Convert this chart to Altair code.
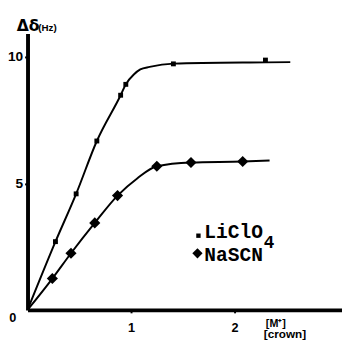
import altair as alt
import pandas as pd

# Values
li_x = [0.27, 0.47, 0.67, 0.90, 0.95, 1.41, 2.30]
li_y = [2.70, 4.59, 6.68, 8.49, 8.92, 9.73, 9.88]
li_curve_x = [0.0, 0.27, 0.47, 0.67, 0.90, 0.95, 1.03, 1.09, 1.18, 1.41, 2.30, 2.54]
li_curve_y = [0.0, 2.70, 4.59, 6.68, 8.49, 8.92, 9.32, 9.51, 9.61, 9.74, 9.79, 9.80]

na_x = [0.24, 0.42, 0.65, 0.87, 1.25, 1.58, 2.08]
na_y = [1.24, 2.24, 3.44, 4.52, 5.68, 5.83, 5.87]
na_curve_x = [0.0, 0.24, 0.42, 0.65, 0.87, 1.06, 1.25, 1.58, 2.08, 2.34]
na_curve_y = [0.0, 1.24, 2.24, 3.44, 4.52, 5.20, 5.68, 5.83, 5.87, 5.91]

x_ticks = [1, 2]
y_ticks = [5, 10]

W, H = 322, 283
XMAX, YMAX = 3.04, 10.93

li_pts = pd.DataFrame({"x": li_x, "y": li_y})
na_pts = pd.DataFrame({"x": na_x, "y": na_y})
li_curve = pd.DataFrame({"x": li_curve_x, "y": li_curve_y, "o": range(len(li_curve_x))})
na_curve = pd.DataFrame({"x": na_curve_x, "y": na_curve_y, "o": range(len(na_curve_x))})

xs = alt.Scale(domain=[0, XMAX], nice=False, zero=False)
ys = alt.Scale(domain=[0, YMAX], nice=False, zero=False)

xax = alt.Axis(values=x_ticks, format="d", title=None, grid=False, domainColor="black", domainWidth=4,
               tickColor="black", tickSize=3, tickWidth=2, labelPadding=9,
               labelFont="Liberation Sans", labelFontWeight="bold", labelFontSize=13,
               labelColor="black", labelBaseline="top")
yax = alt.Axis(values=y_ticks, format="d", title=None, grid=False, domainColor="black", domainWidth=4,
               tickColor="black", tickSize=3, tickWidth=2, labelPadding=2,
               labelFont="Liberation Sans", labelFontWeight="bold", labelFontSize=14,
               labelColor="black")

base_li = alt.Chart(li_curve).mark_line(color="black", strokeWidth=2, interpolate="monotone").encode(
    x=alt.X("x:Q", scale=xs, axis=xax), y=alt.Y("y:Q", scale=ys, axis=yax), order="o:Q")
base_na = alt.Chart(na_curve).mark_line(color="black", strokeWidth=2, interpolate="monotone").encode(
    x=alt.X("x:Q", scale=xs), y=alt.Y("y:Q", scale=ys), order="o:Q")

pts_li = alt.Chart(li_pts).mark_point(shape="square", filled=True, color="black", size=25, opacity=1).encode(
    x=alt.X("x:Q", scale=xs), y=alt.Y("y:Q", scale=ys))
pts_na = alt.Chart(na_pts).mark_point(shape="diamond", filled=True, color="black", size=130, opacity=1).encode(
    x=alt.X("x:Q", scale=xs), y=alt.Y("y:Q", scale=ys))

def txt(s, x, y, size, font="Liberation Sans", weight="bold", align="left", style="normal"):
    return alt.Chart(pd.DataFrame({"t": [s]})).mark_text(
        align=align, baseline="alphabetic", font=font, fontSize=size, fontWeight=weight,
        fontStyle=style, color="black").encode(text="t:N", x=alt.value(x), y=alt.value(y))

zero_lbl = txt("0", -15, H + 12, 13, align="center")
ytitle1 = txt("Δδ", -11, -3, 16, font="DejaVu Sans", weight="bold")
ytitle2 = txt("(Hz)", 11, -3, 10)
xtitle1 = txt("[M⁺]", 244, H + 17, 11)
xtitle2 = txt("[crown]", 242, H + 29, 12)

leg_sq = alt.Chart(pd.DataFrame({"a": [0]})).mark_point(shape="square", filled=True, color="black", size=20, opacity=1).encode(
    x=alt.value(175), y=alt.value(207))
leg_di = alt.Chart(pd.DataFrame({"a": [0]})).mark_point(shape="diamond", filled=True, color="black", size=110, opacity=1).encode(
    x=alt.value(174), y=alt.value(225))
leg1 = txt("LiClO", 181, 209, 20, font="Liberation Mono", weight="bold")
leg1b = txt("4", 242, 220, 18, font="Liberation Mono", weight="bold")
leg2 = txt("NaSCN", 181, 233, 20, font="Liberation Mono", weight="bold")

chart = alt.layer(
    base_li, base_na, pts_li, pts_na, zero_lbl, ytitle1, ytitle2, xtitle1, xtitle2,
    leg_sq, leg_di, leg1, leg1b, leg2
).properties(
    width=W, height=H,
    autosize=alt.AutoSizeParams(type="none"),
    padding={"left": 20, "top": 22, "right": 0, "bottom": 41},
    background="white",
).configure_view(stroke=None)

chart.save("out.html", embed_options={"renderer": "svg", "actions": False})
